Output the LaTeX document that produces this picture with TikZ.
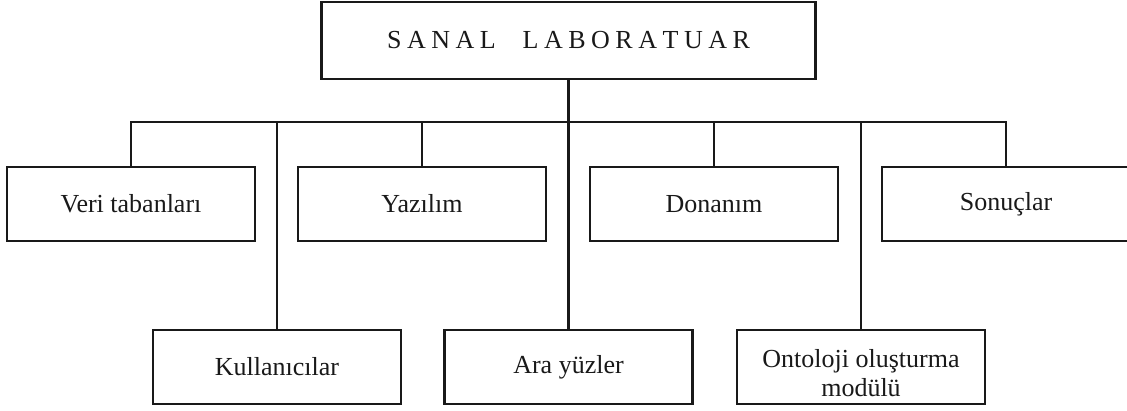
\documentclass[tikz,border=0pt]{standalone}
\usepackage{fontspec}
\setmainfont{Liberation Serif}
\begin{document}
\begin{tikzpicture}[x=1pt,y=-1pt,
  box/.style={draw=black!90, line width=2.3pt, rectangle, inner sep=0pt,
    minimum width=248pt, minimum height=74pt, align=center,
    font=\fontsize{26}{27.5}\selectfont, text=black!90},
  lbl/.style={inner sep=0pt, align=center,
    font=\fontsize{26}{29}\selectfont, text=black!90},
  conn/.style={draw=black!90, line width=2.3pt}]
\useasboundingbox (0,0) rectangle (1127,411);
\newcommand{\lsp}{\kern5.5pt}
\node[box, minimum width=494pt, minimum height=77pt] (top) at (568.5,40.5)
  {S\lsp A\lsp N\lsp A\lsp L\hspace{27pt}L\lsp A\lsp B\lsp O\lsp R\lsp A\lsp T\lsp U\lsp A\lsp R};
\node[box] (veri) at (131,204) {Veri tabanları};
\node[box] (yaz) at (422,204) {Yazılım};
\node[box] (don) at (714,204) {Donanım};
\node[box] (son) at (1006,204) {Sonuçlar};
\node[box] (kul) at (277,367) {Kullanıcılar};
\node[box] (ara) at (568.5,367) {Ara yüzler};
\node[box] (ont) at (861,367) {};
\node[lbl] (ontt) at ([yshift=-6pt]ont.center) {Ontoloji oluşturma\\modülü};
\coordinate (bar) at (568.5,122);
\draw[conn] (top.south) -- (top.south |- bar);
\draw[conn] (veri.north) |- (son.north |- bar) -- (son.north);
\draw[conn] (yaz.north) -- (yaz.north |- bar);
\draw[conn] (don.north) -- (don.north |- bar);
\draw[conn] (kul.north) -- (kul.north |- bar);
\draw[conn] (ara.north) -- (ara.north |- bar);
\draw[conn] (ont.north) -- (ont.north |- bar);
\end{tikzpicture}
\end{document}
